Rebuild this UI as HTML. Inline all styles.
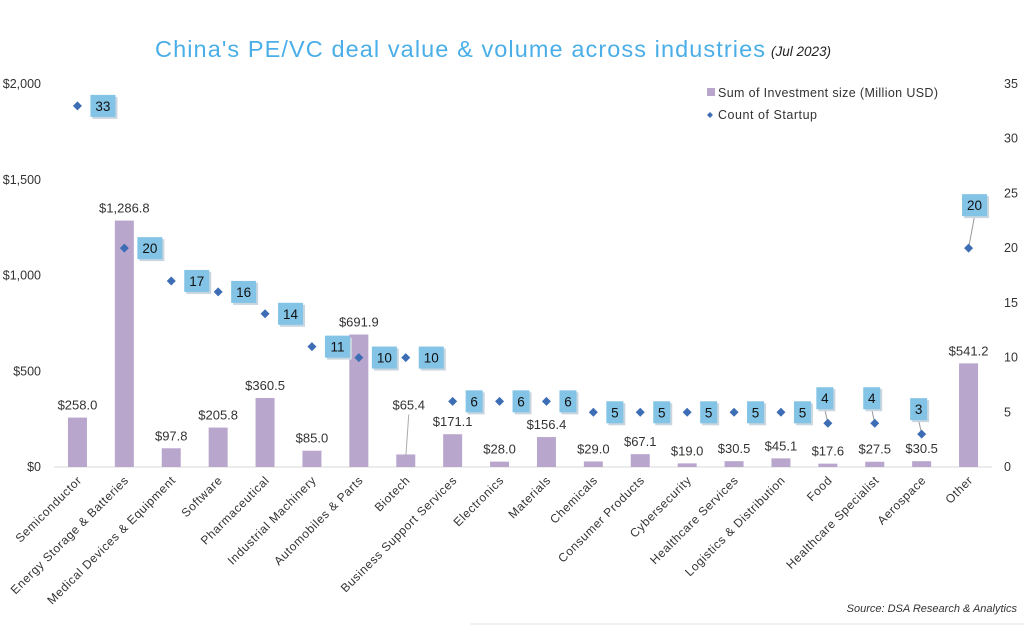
<!DOCTYPE html>
<html><head><meta charset="utf-8">
<style>
html,body{margin:0;padding:0;background:#fff;}
svg{display:block;font-family:"Liberation Sans",sans-serif;}
</style></head>
<body>
<svg id="chart" width="1024" height="625" viewBox="0 0 1024 625">
<text x="155" y="57" font-size="23.5" fill="#4aaee8" textLength="610" lengthAdjust="spacing">China's PE/VC deal value &amp; volume across industries</text>
<text x="771" y="56" font-size="13.5" font-style="italic" fill="#222">(Jul 2023)</text>
<g>
<rect x="707" y="88" width="8" height="8" fill="#b9a6cd"/>
<text x="718" y="97" font-size="12.5" fill="#333" textLength="220" lengthAdjust="spacing">Sum of Investment size (Million USD)</text>
<path d="M710 112 l3 3 l-3 3 l-3 -3z" fill="#3d6db5"/>
<text x="718" y="119" font-size="12.5" fill="#333" textLength="99" lengthAdjust="spacing">Count of Startup</text>
</g>
<text x="1017" y="612" font-size="11" font-style="italic" fill="#333" text-anchor="end">Source: DSA Research &amp; Analytics</text>
<line x1="470" y1="624" x2="1024" y2="624" stroke="#e4e4e4"/>
<g id="plot"></g>
</svg>
<script>
const categories=["Semiconductor","Energy Storage & Batteries","Medical Devices & Equipment","Software","Pharmaceutical","Industrial Machinery","Automobiles & Parts","Biotech","Business Support Services","Electronics","Materials","Chemicals","Consumer Products","Cybersecurity","Healthcare Services","Logistics & Distribution","Food","Healthcare Specialist","Aerospace","Other"];
const investment=[258.0,1286.8,97.8,205.8,360.5,85.0,691.9,65.4,171.1,28.0,156.4,29.0,67.1,19.0,30.5,45.1,17.6,27.5,30.5,541.2];
const counts=[33,20,17,16,14,11,10,10,6,6,6,5,5,5,5,5,4,4,3,20];
const leftTicks=[0,500,1000,1500,2000];
const leftTickLabels=["$0","$500","$1,000","$1,500","$2,000"];
const rightTicks=[0,5,10,15,20,25,30,35];

const NS="http://www.w3.org/2000/svg";
const g=document.getElementById('plot');
const x0=54,x1=992,yBase=467,yTop=84;
const step=(x1-x0)/categories.length;
const xC=i=>x0+step*(i+0.5);
const yL=v=>yBase-(v/2000)*(yBase-yTop);
const yR=v=>yBase-(v/35)*(yBase-yTop);
function mk(tag,attrs,txt){const e=document.createElementNS(NS,tag);for(const k in attrs)e.setAttribute(k,attrs[k]);if(txt!==undefined)e.textContent=txt;g.appendChild(e);return e;}
const fmt=v=>"$"+v.toLocaleString("en-US",{minimumFractionDigits:1,maximumFractionDigits:1});

leftTicks.forEach((t,i)=>{
 const e=mk('text',{x:41,y:yL(t)+4,'font-size':12.5,fill:'#333','text-anchor':'end'},leftTickLabels[i]);
 
 
});
rightTicks.forEach(t=>{
 const e=mk('text',{x:1004,y:yR(t)+4,'font-size':12.5,fill:'#333'},String(t));
 
 
});
const base=mk('line',{x1:x0,y1:yBase,x2:x1,y2:yBase,stroke:'#d9d9d9'});



const aboveBox=[16,17,18,19];
categories.forEach((c,i)=>{
 const cx=xC(i),v=investment[i],yt=yL(v);
 const b=mk('rect',{x:cx-9.5,y:yt,width:19,height:yBase-yt,fill:'#b9a6cd'});
 
 
 let ly=yt-8;
 if(i===7){ly=yt-45;const l=mk('line',{x1:cx+3,y1:ly+5,x2:cx,y2:yt+3,stroke:'#aaa'});}
 const bl=mk('text',{x:cx+(i===7?3:0),y:ly,'font-size':13,fill:'#333','text-anchor':'middle'},fmt(v));
 
 
 const lab=mk('text',{x:0,y:0,'font-size':12,'letter-spacing':0.6,fill:'#333','text-anchor':'end',transform:`translate(${cx+5},${yBase+14}) rotate(-45)`},c);
 
 
});
categories.forEach((c,i)=>{
 const cx=xC(i),n=counts[i],my=yR(n);
 const s=String(n),w=s.length>1?25:17,h=22;
 let bx,by;
 if(aboveBox.includes(i)){
  bx=cx-w/2+(i===19?6:-3);by=my-(i===19?54:36);
  const l=mk('line',{x1:bx+w/2,y1:by+h,x2:cx,y2:my,stroke:'#999'});
  
  
 } else {bx=cx+13;by=my-h/2;}
 const sh=mk('rect',{x:bx+2,y:by+2,width:w,height:h,fill:'#c9d6df'});
 
 
 const r=mk('rect',{x:bx,y:by,width:w,height:h,fill:'#82c3e6'});
 
 
 const t=mk('text',{x:bx+w/2,y:by+16,'font-size':13.5,fill:'#111','text-anchor':'middle'},s);
 
 
 const m=mk('path',{d:`M${cx} ${my-4.5} l4.5 4.5 l-4.5 4.5 l-4.5 -4.5z`,fill:'#3d6db5'});
 
 
});
</script>
</body></html>
